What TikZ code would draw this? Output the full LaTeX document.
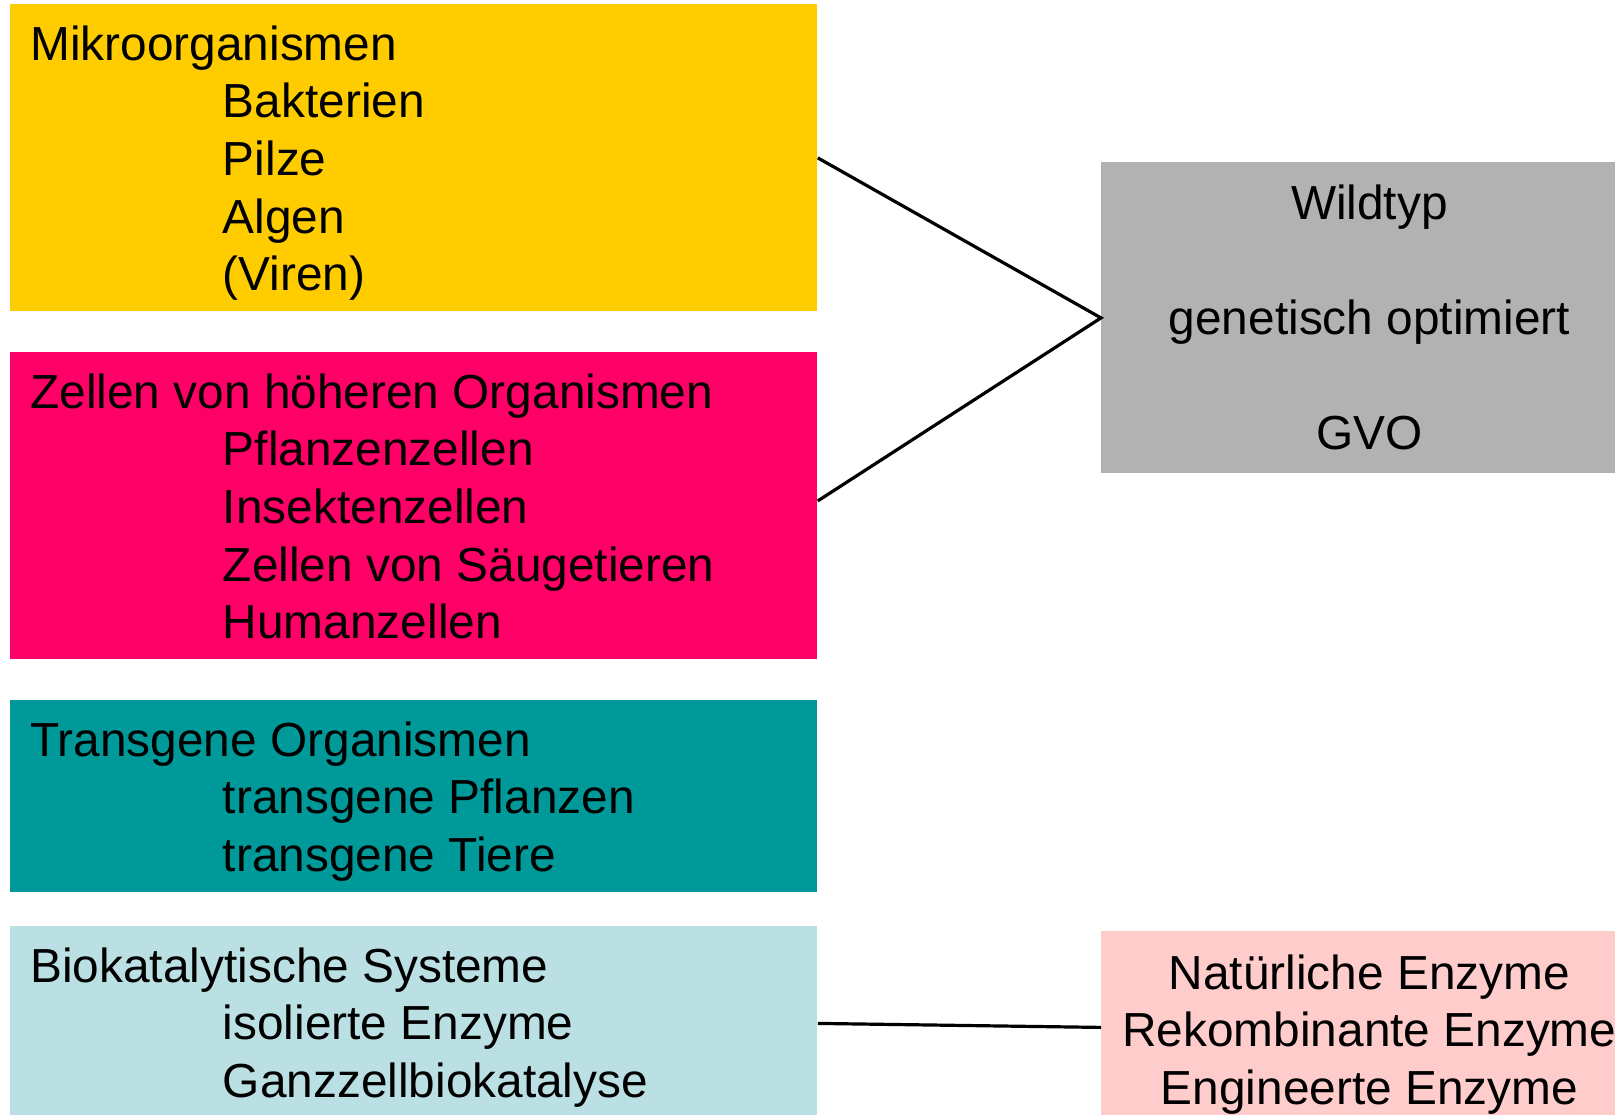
\documentclass[tikz,border=0pt]{standalone}
\usepackage{fontspec}
\setmainfont{Liberation Sans}
\usetikzlibrary{calc}
\definecolor{gelb}{HTML}{FFCC00}
\definecolor{magenta}{HTML}{FF0066}
\definecolor{petrol}{HTML}{009999}
\definecolor{hellblau}{HTML}{BBE0E3}
\definecolor{grau}{HTML}{B2B2B2}
\definecolor{rosa}{HTML}{FFCCCC}
\newcommand\ein{\hspace*{96.25pt}}

\begin{document}
\begin{tikzpicture}[x=0.5pt,y=-0.5pt,
  box/.style={rectangle,inner sep=0pt,anchor=north west,minimum width=403.5pt},
  liste/.style={anchor=north west,align=left,inner sep=0pt,font=\fontsize{23.9}{28.85}\selectfont},
  ziel/.style={rectangle,inner sep=0pt,anchor=north west,minimum width=268pt,align=center,
    font=\fontsize{23.9}{28.85}\selectfont},
  verb/.style={line width=1.6pt}]
  \useasboundingbox (0,0) rectangle (1615,1114);
  % linke Spalte
  \node[box,fill=gelb,minimum height=153.5pt] (mikro) at (10,4){};
  \node[box,fill=magenta,minimum height=153.5pt] (zellen) at (10,352){};
  \node[box,fill=petrol,minimum height=96pt] (trans) at (10,700){};
  \node[box,fill=hellblau,minimum height=97pt] (bio) at (10,926){};
  \node[liste] (mikro-txt) at ($(mikro.north west)+(20,15.3)$)
    {\strut Mikroorganismen\\\ein Bakterien\\\ein Pilze\\\ein Algen\\\ein (Viren)};
  \node[liste] (zellen-txt) at ($(zellen.north west)+(20,15.3)$)
    {\strut Zellen von höheren Organismen\\\ein Pflanzenzellen\\\ein Insektenzellen\\\ein Zellen von Säugetieren\\\ein Humanzellen};
  \node[liste] (trans-txt) at ($(trans.north west)+(20,15.3)$)
    {\strut Transgene Organismen\\\ein transgene Pflanzen\\\ein transgene Tiere};
  \node[liste] (bio-txt) at ($(bio.north west)+(20,15.3)$)
    {\strut Biokatalytische Systeme\\\ein isolierte Enzyme\\\ein Ganzzellbiokatalyse};
  % rechte Spalte
  \node[ziel,fill=grau,minimum height=155.5pt] (wild) at (1101,162){};
  \node[align=center,font=\fontsize{23.9}{28.85}\selectfont,yshift=-2.5pt] (wild-txt) at (wild.center)
    {\strut Wildtyp\\[28.85pt]genetisch optimiert\\[28.85pt]\strut GVO};
  \node[ziel,fill=rosa,minimum height=96pt] (enz) at (1101,931){};
  \node[align=center,font=\fontsize{23.9}{28.85}\selectfont,yshift=-3.9pt] (enz-txt) at (enz.center)
    {\strut Natürliche Enzyme\\Rekombinante Enzyme\\\strut Engineerte Enzyme};
  % Verbindungen
  \draw[verb] (mikro.east)--(wild.west)--([yshift=2.5pt]zellen.east);
  \draw[verb] (bio.east)--(enz.west);
\end{tikzpicture}
\end{document}
